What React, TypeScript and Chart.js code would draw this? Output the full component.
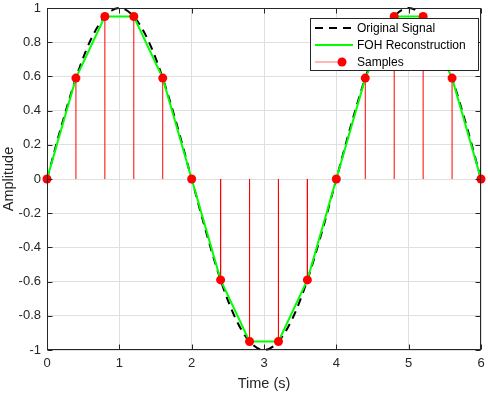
import React, { useEffect, useRef } from "react";
import { Chart, registerables } from "chart.js";

Chart.register(...registerables);

// ---- Data ----
const signalTimes = [
  0, 0.2, 0.4, 0.6, 0.8, 1.0, 1.2, 1.4, 1.6, 1.8, 2.0,
  2.2, 2.4, 2.6, 2.8, 3.0, 3.2, 3.4, 3.6, 3.8, 4.0,
  4.2, 4.4, 4.6, 4.8, 5.0, 5.2, 5.4, 5.6, 5.8, 6.0,
];
const signalValues = [
  0, 0.31, 0.59, 0.81, 0.95, 1.0, 0.95, 0.81, 0.59, 0.31, 0,
  -0.31, -0.59, -0.81, -0.95, -1.0, -0.95, -0.81, -0.59, -0.31, 0,
  0.31, 0.59, 0.81, 0.95, 1.0, 0.95, 0.81, 0.59, 0.31, 0,
];
const sampleTimes = [0, 0.4, 0.8, 1.2, 1.6, 2.0, 2.4, 2.8, 3.2, 3.6, 4.0, 4.4, 4.8, 5.2, 5.6, 6.0];
const sampleValues = [0, 0.59, 0.95, 0.95, 0.59, 0, -0.59, -0.95, -0.95, -0.59, 0, 0.59, 0.95, 0.95, 0.59, 0];
const xTickValues = [0, 1, 2, 3, 4, 5, 6];
const yTickValues = [-1, -0.8, -0.6, -0.4, -0.2, 0, 0.2, 0.4, 0.6, 0.8, 1];
const legendLabels = ["Original Signal", "FOH Reconstruction", "Samples"];
const xTitle = "Time (s)";
const yTitle = "Amplitude";

const FONT = '"Liberation Sans", Arial, Helvetica, sans-serif';
const AXIS = "#262626";

const framePlugin = {
  id: "frameAndLegend",
  afterDraw(chart: any) {
    const { ctx, chartArea: ca, scales } = chart;
    const xs = scales.x;
    const ys = scales.y;
    ctx.save();
    ctx.strokeStyle = AXIS;
    ctx.lineWidth = 1;
    const L = Math.round(ca.left) + 0.5;
    const R = Math.round(ca.right) - 0.5;
    const T = Math.round(ca.top) + 0.5;
    const B = Math.round(ca.bottom) - 0.5;
    ctx.strokeRect(L, T, R - L, B - T);
    const tl = 5;
    ctx.beginPath();
    xTickValues.forEach((v) => {
      const px = Math.round(xs.getPixelForValue(v)) + 0.5;
      ctx.moveTo(px, B);
      ctx.lineTo(px, B - tl);
      ctx.moveTo(px, T);
      ctx.lineTo(px, T + tl);
    });
    yTickValues.forEach((v) => {
      const py = Math.round(ys.getPixelForValue(v)) + 0.5;
      ctx.moveTo(L, py);
      ctx.lineTo(L + tl, py);
      ctx.moveTo(R, py);
      ctx.lineTo(R - tl, py);
    });
    ctx.stroke();

    // legend
    const lw = 168;
    const lh = 52;
    const lx = Math.round(ca.right) - 3 - lw;
    const ly = Math.round(ca.top) + 10;
    ctx.fillStyle = "#ffffff";
    ctx.fillRect(lx, ly, lw, lh);
    ctx.strokeStyle = AXIS;
    ctx.strokeRect(lx + 0.5, ly + 0.5, lw, lh);
    const rows = [ly + 10, ly + 27, ly + 44];
    ctx.strokeStyle = "#000000";
    ctx.lineWidth = 2;
    ctx.setLineDash([8, 6]);
    ctx.beginPath();
    ctx.moveTo(lx + 5, rows[0]);
    ctx.lineTo(lx + 43, rows[0]);
    ctx.stroke();
    ctx.setLineDash([]);
    ctx.strokeStyle = "#00ff00";
    ctx.beginPath();
    ctx.moveTo(lx + 5, rows[1]);
    ctx.lineTo(lx + 43, rows[1]);
    ctx.stroke();
    ctx.strokeStyle = "#ff7070";
    ctx.lineWidth = 1;
    ctx.beginPath();
    ctx.moveTo(lx + 5, rows[2]);
    ctx.lineTo(lx + 32, rows[2]);
    ctx.stroke();
    ctx.fillStyle = "#ff0000";
    ctx.beginPath();
    ctx.arc(lx + 32, rows[2], 4.5, 0, Math.PI * 2);
    ctx.fill();
    ctx.fillStyle = "#000000";
    ctx.font = `12px ${FONT}`;
    ctx.textBaseline = "middle";
    ctx.textAlign = "left";
    legendLabels.forEach((t, i) => ctx.fillText(t, lx + 47, rows[i] + 0.5));
    ctx.restore();
  },
};

export default function App() {
  const ref = useRef<HTMLCanvasElement | null>(null);
  useEffect(() => {
    if (!ref.current) return;
    const stemData: any[] = [];
    sampleTimes.forEach((t, i) => {
      stemData.push({ x: t, y: 0 });
      stemData.push({ x: t, y: sampleValues[i] });
      stemData.push({ x: t, y: null });
    });
    const chart = new Chart(ref.current, {
      type: "line",
      data: {
        datasets: [
          {
            label: legendLabels[2],
            data: sampleTimes.map((t, i) => ({ x: t, y: sampleValues[i] })),
            showLine: false,
            pointRadius: 4.5,
            pointBackgroundColor: "#ff0000",
            pointBorderColor: "#ff0000",
            pointBorderWidth: 0,
            clip: false,
            order: 0,
          } as any,
          {
            label: legendLabels[1],
            data: sampleTimes.map((t, i) => ({ x: t, y: sampleValues[i] })),
            borderColor: "#00ff00",
            borderWidth: 2,
            pointRadius: 0,
            tension: 0,
            clip: false,
            order: 1,
          },
          {
            label: legendLabels[0],
            data: signalTimes.map((t, i) => ({ x: t, y: signalValues[i] })),
            borderColor: "#000000",
            borderWidth: 2,
            borderDash: [8, 6],
            pointRadius: 0,
            cubicInterpolationMode: "monotone",
            clip: false,
            order: 2,
          },
          {
            label: "stems",
            data: stemData,
            borderColor: "#ff0000",
            borderWidth: 1,
            pointRadius: 0,
            spanGaps: false,
            order: 3,
          },
        ],
      },
      options: {
        responsive: false,
        animation: false,
        events: [],
        layout: { padding: { top: 8, right: 7, left: 0, bottom: 0 } },
        plugins: {
          legend: { display: false },
          tooltip: { enabled: false },
          title: { display: false },
        },
        scales: {
          x: {
            type: "linear",
            min: 0,
            max: 6,
            afterFit: (s: any) => {
              s.height = 43;
              s.paddingLeft = 0;
              s.paddingRight = 0;
            },
            afterBuildTicks: (s: any) => {
              s.ticks = xTickValues.map((v) => ({ value: v }));
            },
            ticks: {
              color: AXIS,
              font: { family: FONT, size: 13 },
              padding: 6,
              maxRotation: 0,
              callback: (v: any) => String(v),
            },
            grid: { color: "#dfdfdf", drawTicks: false, lineWidth: 1 },
            border: { display: false },
            title: {
              display: true,
              text: xTitle,
              color: AXIS,
              font: { family: FONT, size: 14.5 },
              padding: { top: 0, bottom: 0 },
            },
          },
          y: {
            type: "linear",
            min: -1,
            max: 1,
            afterFit: (s: any) => {
              s.width = 47;
              s.paddingTop = 0;
              s.paddingBottom = 0;
            },
            afterBuildTicks: (s: any) => {
              s.ticks = yTickValues.map((v) => ({ value: v }));
            },
            ticks: {
              color: AXIS,
              font: { family: FONT, size: 13 },
              padding: 6,
              callback: (v: any) => {
                const r = Math.round(Number(v) * 10) / 10;
                return r === 0 ? "0" : String(r);
              },
            },
            grid: { color: "#dfdfdf", drawTicks: false, lineWidth: 1 },
            border: { display: false },
            title: {
              display: true,
              text: yTitle,
              color: AXIS,
              font: { family: FONT, size: 14.5 },
              padding: { top: 0, bottom: 0 },
            },
          },
        },
      } as any,
      plugins: [framePlugin],
    });
    return () => chart.destroy();
  }, []);
  return (
    <div style={{ position: "absolute", left: 0, top: 0, width: 488, height: 393, background: "#fff" }}>
      <canvas ref={ref} width={488} height={393} style={{ display: "block" }} />
    </div>
  );
}
